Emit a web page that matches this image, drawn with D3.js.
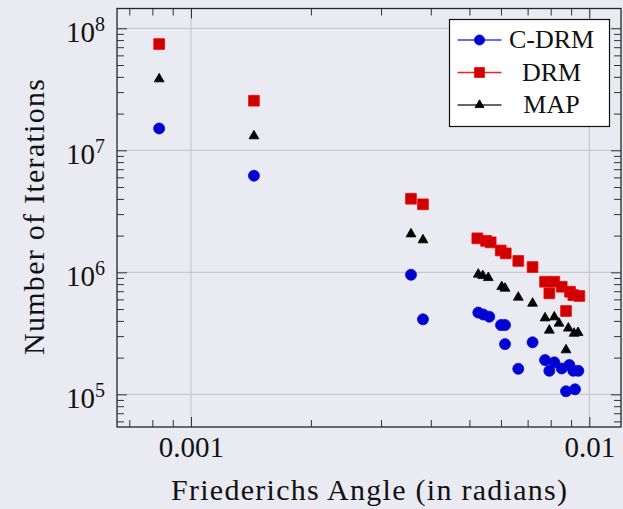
<!DOCTYPE html>
<html>
<head>
<meta charset="utf-8">
<script src="https://cdn.jsdelivr.net/npm/d3@7"></script>
<style>
  body { margin: 0; background: #eaeaf2; }
  svg { display: block; }
  text { font-family: "Liberation Serif", "DejaVu Serif", serif; fill: #111; }
</style>
</head>
<body>
<svg width="623" height="509"></svg>
<script>
// C-DRM (blue circles)
const cdrmAngle = [8.32e-4, 1.439e-3, 3.567e-3, 3.823e-3, 5.264e-3, 5.420e-3, 5.609e-3, 6.002e-3, 6.143e-3, 6.143e-3, 6.632e-3,
    7.203e-3, 7.742e-3, 8.168e-3, 7.936e-3, 8.526e-3, 8.909e-3, 9.117e-3, 9.385e-3, 8.740e-3, 9.208e-3];
const cdrmIter = [1.51e7, 6.19e6, 9.55e5, 4.12e5, 4.68e5, 4.51e5, 4.33e5, 3.70e5, 3.70e5, 2.58e5, 1.62e5,
    2.67e5, 1.91e5, 1.83e5, 1.56e5, 1.63e5, 1.74e5, 1.56e5, 1.56e5, 1.06e5, 1.10e5];

// DRM (red squares)
const drmAngle = [8.32e-4, 1.439e-3, 3.567e-3, 3.823e-3, 5.234e-3, 5.504e-3, 5.655e-3, 5.992e-3, 6.169e-3, 6.632e-3,
    7.203e-3, 7.742e-3, 8.168e-3, 7.936e-3, 8.526e-3, 8.944e-3, 9.117e-3, 9.439e-3, 8.740e-3];
const drmIter = [7.43e7, 2.55e7, 4.01e6, 3.61e6, 1.90e6, 1.81e6, 1.76e6, 1.51e6, 1.43e6, 1.24e6,
    1.105e6, 8.37e5, 8.37e5, 6.73e5, 7.62e5, 6.93e5, 6.51e5, 6.40e5, 4.82e5];

// MAP (black triangles)
const mapAngle = [8.32e-4, 1.439e-3, 3.567e-3, 3.823e-3, 5.264e-3, 5.400e-3, 5.577e-3, 6.027e-3, 6.143e-3, 6.632e-3,
    7.203e-3, 7.742e-3, 8.168e-3, 7.936e-3, 8.394e-3, 8.858e-3, 9.155e-3, 9.368e-3, 8.740e-3];
const mapIter = [3.84e7, 1.31e7, 2.06e6, 1.84e6, 9.63e5, 9.38e5, 9.03e5, 7.62e5, 7.39e5, 6.24e5,
    5.57e5, 4.22e5, 4.30e5, 3.35e5, 3.82e5, 3.48e5, 3.16e5, 3.20e5, 2.31e5];

const xTickValues = [0.001, 0.01];
const xTickLabels = ["0.001", "0.01"];
const yTickExps = [5, 6, 7, 8];
const seriesNames = ["C-DRM", "DRM", "MAP"];

const margin = { top: 8.5, right: 2, bottom: 82, left: 117 },
    width = 623 - margin.left - margin.right,
    height = 509 - margin.top - margin.bottom;

const svg = d3.select("svg");
const g = svg.append("g").attr("transform", `translate(${margin.left}, ${margin.top})`);

const x = d3.scaleLog().domain([6.52e-4, 0.01201]).range([0, width]);
const y = d3.scaleLog().domain([5.40e4, 1.453e8]).range([height, 0]);

// grid
g.selectAll(".gx").data(xTickValues).enter().append("line")
    .attr("x1", d => x(d)).attr("x2", d => x(d))
    .attr("y1", 0).attr("y2", height)
    .attr("stroke", "#c2c2c6").attr("stroke-width", 1);
g.selectAll(".gy").data(yTickExps).enter().append("line")
    .attr("x1", 0).attr("x2", width)
    .attr("y1", d => y(Math.pow(10, d))).attr("y2", d => y(Math.pow(10, d)))
    .attr("stroke", "#c2c2c6").attr("stroke-width", 1);

// ticks (inward, all four sides)
const xMinor = x.ticks().filter(d => !xTickValues.some(v => Math.abs(v - d) / v < 1e-6));
const yMinor = y.ticks().filter(d => Math.abs(Math.log10(d) - Math.round(Math.log10(d))) > 1e-6);
const yMajor = yTickExps.map(e => Math.pow(10, e));

function styleAxis(sel) {
    sel.select(".domain").remove();
    sel.selectAll("line").attr("stroke", "#333").attr("stroke-width", 1);
}

g.append("g").attr("transform", `translate(0, ${height})`)
    .call(d3.axisBottom(x).tickValues(xMinor).tickSize(-7).tickFormat(""))
    .call(styleAxis);
g.append("g")
    .call(d3.axisTop(x).tickValues(xMinor).tickSize(-7).tickFormat(""))
    .call(styleAxis);
g.append("g")
    .call(d3.axisTop(x).tickValues(xTickValues).tickSize(-10).tickFormat(""))
    .call(styleAxis);
const xAxis = g.append("g").attr("transform", `translate(0, ${height})`)
    .call(d3.axisBottom(x).tickValues(xTickValues).tickSize(-10).tickPadding(9.5)
        .tickFormat((d, i) => xTickLabels[i]))
    .call(styleAxis);
xAxis.selectAll("text").attr("font-size", "29px").attr("fill", "#111");

g.append("g").call(d3.axisLeft(y).tickValues(yMinor).tickSize(-7).tickFormat("")).call(styleAxis);
g.append("g").call(d3.axisLeft(y).tickValues(yMajor).tickSize(-10).tickFormat("")).call(styleAxis);
g.append("g").attr("transform", `translate(${width}, 0)`)
    .call(d3.axisRight(y).tickValues(yMinor).tickSize(-7).tickFormat("")).call(styleAxis);
g.append("g").attr("transform", `translate(${width}, 0)`)
    .call(d3.axisRight(y).tickValues(yMajor).tickSize(-10).tickFormat("")).call(styleAxis);

// y tick labels 10^k
const yl = g.selectAll(".ylab").data(yTickExps).enter().append("text")
    .attr("x", -12)
    .attr("y", d => y(Math.pow(10, d)) + 13.5)
    .attr("text-anchor", "end")
    .attr("font-size", "29px");
yl.append("tspan").text("10");
yl.append("tspan").attr("font-size", "20px").attr("dy", -10.5).text(d => d);

// frame
g.append("rect").attr("x", 0).attr("y", 0).attr("width", width).attr("height", height)
    .attr("fill", "none").attr("stroke", "#262626").attr("stroke-width", 1.3);

// series
const series = [
    { name: seriesNames[0], angle: cdrmAngle, iter: cdrmIter, shape: d3.symbolCircle, size: 95, fill: "#0000cc", stroke: "#0000ff", line: "#3a3aff" },
    { name: seriesNames[1], angle: drmAngle, iter: drmIter, shape: d3.symbolSquare, size: 115, fill: "#cc0000", stroke: "#ff0000", line: "#ff2020" },
    { name: seriesNames[2], angle: mapAngle, iter: mapIter, shape: d3.symbolTriangle, size: 42, fill: "#000", stroke: "#000", line: "#333" }
];

series.forEach(s => {
    const pts = s.angle.map((a, i) => ({ a: a, n: s.iter[i] }));
    g.append("g").selectAll("path").data(pts).enter().append("path")
        .attr("d", d3.symbol().type(s.shape).size(s.size))
        .attr("transform", d => `translate(${x(d.a)}, ${y(d.n)})`)
        .attr("fill", s.fill)
        .attr("stroke", s.stroke)
        .attr("stroke-width", 0.8);
});

// legend
const legend = svg.append("g").attr("transform", "translate(449.5, 19.5)");
legend.append("rect").attr("width", 160).attr("height", 107)
    .attr("fill", "#fff").attr("stroke", "#111").attr("stroke-width", 1.2);
series.forEach((s, i) => {
    const ry = 20.5 + i * 32.5;
    legend.append("line").attr("x1", 8).attr("x2", 52).attr("y1", ry).attr("y2", ry)
        .attr("stroke", s.line).attr("stroke-width", 1.3);
    legend.append("path")
        .attr("d", d3.symbol().type(s.shape).size(s.size * 0.85))
        .attr("transform", `translate(30, ${ry})`)
        .attr("fill", s.fill).attr("stroke", s.stroke).attr("stroke-width", 0.8);
    legend.append("text").attr("x", 102).attr("y", ry + 8)
        .attr("text-anchor", "middle").attr("font-size", "26px")
        .text(s.name);
});

// axis labels
svg.append("text")
    .attr("x", margin.left + width / 2).attr("y", 500)
    .attr("text-anchor", "middle").attr("font-size", "30px")
    .attr("textLength", 396).attr("lengthAdjust", "spacing")
    .text("Friederichs Angle (in radians)");

svg.append("text")
    .attr("transform", `translate(43.5, 217) rotate(-90)`)
    .attr("text-anchor", "middle").attr("font-size", "30px")
    .attr("textLength", 276).attr("lengthAdjust", "spacing")
    .text("Number of Iterations");
</script>
</body>
</html>
